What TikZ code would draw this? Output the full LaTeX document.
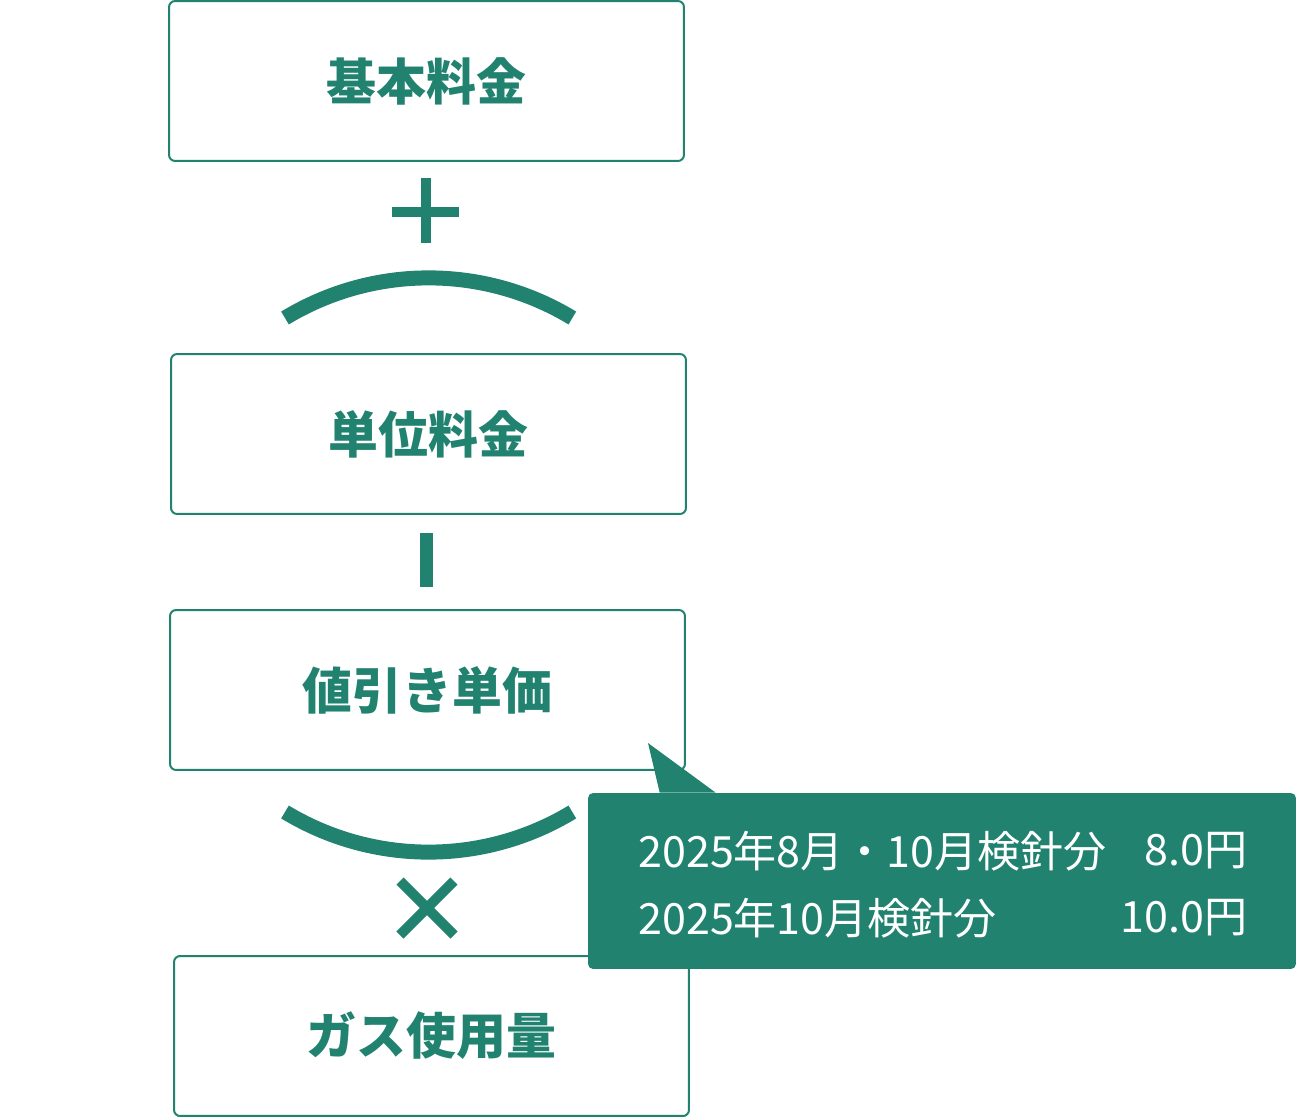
\documentclass[tikz,border=0pt]{standalone}
\usepackage{fontspec}
\newfontfamily\jpfont{Noto Sans CJK JP}
\definecolor{gasgreen}{HTML}{218270}
\tikzset{
  termbox/.style={draw=gasgreen, line width=0.04cm, rounded corners=0.12cm,
    minimum width=10.3cm, minimum height=3.2cm, text=gasgreen,
    font=\jpfont\bfseries\fontsize{28.4}{34}\selectfont},
  opline/.style={gasgreen, line width=0.2cm},
  paren/.style={gasgreen, line width=0.3cm},
  notetext/.style={text=white, inner sep=0pt, font=\jpfont\fontsize{24.5}{29}\selectfont}
}
\begin{document}
\begin{tikzpicture}[x=0.02cm, y=-0.02cm]
      \useasboundingbox (0,0) rectangle (1297,1118);
      \node[termbox] (base) at (426.5,81) {基本料金};
      \node[termbox] (unit) at (428.5,434) {単位料金};
      \node[termbox] (disc) at (427.5,690) {値引き単価};
      \node[termbox] (usage) at (431.5,1036) {ガス使用量};
      \draw[opline] (426,178) -- (426,243) (392,212) -- (459,212);
      \draw[paren] (285,318) arc[start angle=121.2, end angle=58.8, radius=5.548cm];
      \fill[gasgreen] (420,533) rectangle (433,587);
      \draw[paren] (285,812) arc[start angle=238.8, end angle=301.2, radius=5.548cm];
      \draw[opline] (400,881) -- (454,935) (454,881) -- (400,935);
      \node[fill=gasgreen, rounded corners=0.1cm, minimum width=14.16cm, minimum height=3.52cm] (note) at (942,881) {};
      \coordinate (tip) at (648,743);
      \fill[gasgreen] (tip) -- ([xshift=1.44cm]note.north west) -- ([xshift=2.56cm]note.north west) -- cycle;
      \node[notetext, anchor=west] (row1) at (638,851) {2025年8月・10月検針分};
      \node[notetext, anchor=east] (val1) at (1248,851) {8.0円};
      \node[notetext, anchor=west] (row2) at (638,918) {2025年10月検針分};
      \node[notetext, anchor=east] (val2) at (1248,918) {10.0円};
\end{tikzpicture}
\end{document}
